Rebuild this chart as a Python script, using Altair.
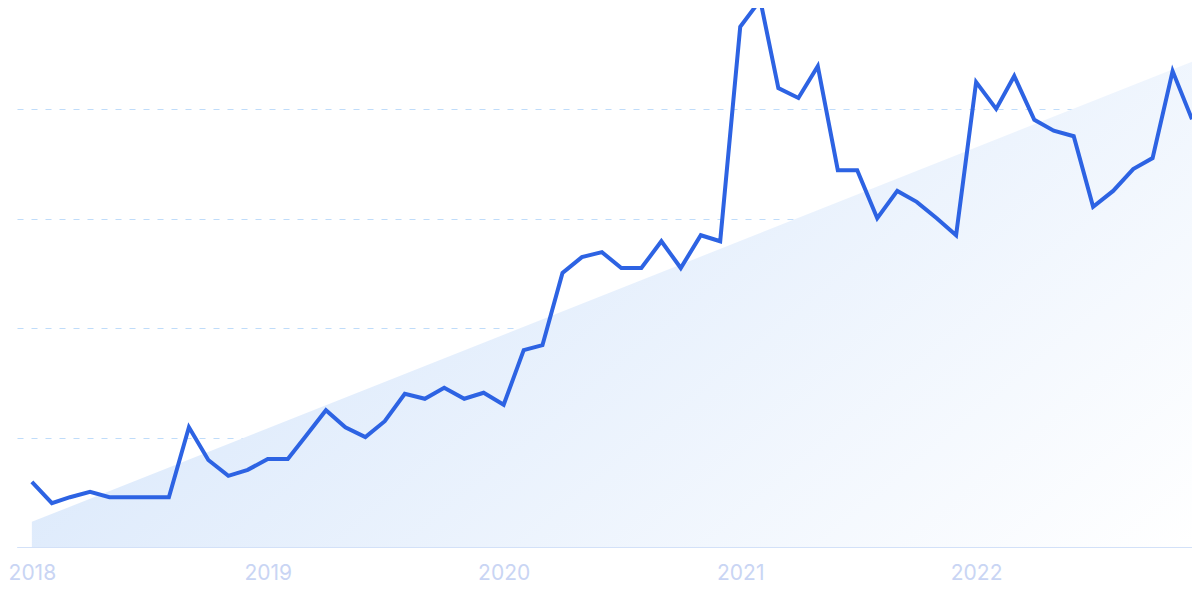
import altair as alt
import pandas as pd

# Monthly interest values, Jan 2018 .. Dec 2022
months = pd.date_range("2018-01-01", "2022-12-01", freq="MS").strftime("%Y-%m-%d").tolist()
values = [
    11.9, 8.0, 9.1, 10.1, 9.1, 9.1, 9.1, 9.1, 21.9, 15.9, 13.0, 14.1,
    16.1, 16.1, 20.3, 25.0, 21.9, 20.1, 23.0, 28.0, 27.1, 29.1, 27.1, 28.2,
    26.0, 36.0, 36.9, 50.1, 53.0, 53.9, 51.0, 51.0, 55.9, 51.0, 57.0, 55.9,
    95.1, 100.0, 83.9, 82.1, 87.9, 68.9, 68.9, 60.1, 65.1, 63.1, 60.1, 57.0,
    85.0, 80.1, 86.1, 78.1, 76.1, 75.1, 62.2, 65.1, 69.1, 71.1, 87.0, 78.2,
]
trend_dates = ["2018-01-01", "2022-12-01"]
trend_values = [4.6, 88.7]
year_ticks = ["2018", "2019", "2020", "2021", "2022"]

df = pd.DataFrame({"date": months, "value": values})
trend = pd.DataFrame({"date": trend_dates, "value": trend_values})

x_scale = alt.Scale(
    type="utc",
    domain=[alt.DateTime(year=2017, month=12, date=9, utc=True),
            alt.DateTime(year=2022, month=12, date=1, utc=True)],
    nice=False,
)
y_scale = alt.Scale(domain=[0, 98.54], nice=False, zero=False)

x_axis = alt.Axis(
    values=[alt.DateTime(year=int(y), month=1, date=1, utc=True) for y in year_ticks],
    format="%Y",
    formatType="utc",
    title=None,
    grid=False,
    ticks=False,
    labelPadding=15,
    labelFontSize=21,
    labelFont="Inter",
    labelColor="#c9d5f4",
    labelFlush=False,
    domainColor="#d3e1f8",
    domainWidth=1.2,
)
y_axis = alt.Axis(
    values=[0, 20, 40, 60, 80],
    title=None,
    labels=False,
    ticks=False,
    domain=False,
    grid=True,
    gridColor="#bfdcfa",
    gridDash=[6, 8],
    gridWidth=1.2,
)

area = alt.Chart(trend).mark_area(
    color=alt.Gradient(
        gradient="linear",
        x1=0, y1=0.5, x2=1, y2=1,
        stops=[alt.GradientStop(offset=0, color="#d8e7fb"),
               alt.GradientStop(offset=1, color="#ffffff")],
    )
).encode(
    x=alt.X("date:T", scale=x_scale, axis=x_axis),
    y=alt.Y("value:Q", scale=y_scale, axis=y_axis),
)

line = alt.Chart(df).mark_line(color="#2d63e3", strokeWidth=4).encode(
    x=alt.X("date:T", scale=x_scale),
    y=alt.Y("value:Q", scale=y_scale),
)

chart = alt.layer(area, line).properties(
    width=1175,
    height=539,
    autosize=alt.AutoSizeParams(type="none"),
    padding={"left": 9, "top": 0, "right": 0, "bottom": 44},
    background="white",
).configure_view(stroke=None)

chart.save("out.html", embed_options={"renderer": "svg", "actions": False})
